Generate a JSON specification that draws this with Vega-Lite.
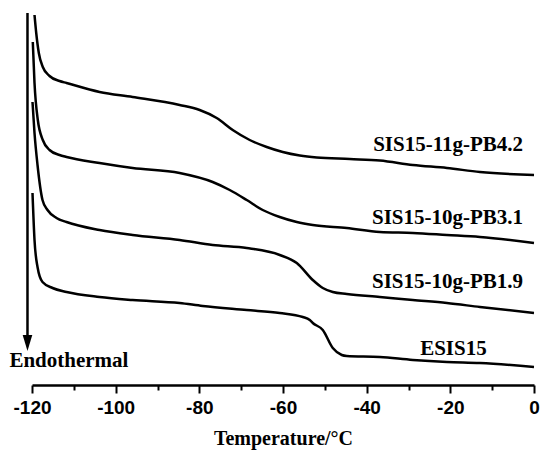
{
  "$schema": "https://vega.github.io/schema/vega-lite/v6.json",
  "width": 502,
  "height": 385,
  "autosize": "none",
  "padding": {"left": 32, "top": 0, "right": 6, "bottom": 66},
  "background": "white",
  "config": {"view": {"stroke": null}},
  "datasets": {
    "curves": [
      {"sample": "SIS15-11g-PB4.2", "T": -119.40, "hf": 3.70},
      {"sample": "SIS15-11g-PB4.2", "T": -118.99, "hf": 3.52},
      {"sample": "SIS15-11g-PB4.2", "T": -118.37, "hf": 3.32},
      {"sample": "SIS15-11g-PB4.2", "T": -117.42, "hf": 3.18},
      {"sample": "SIS15-11g-PB4.2", "T": -115.81, "hf": 3.09},
      {"sample": "SIS15-11g-PB4.2", "T": -113.42, "hf": 3.04},
      {"sample": "SIS15-11g-PB4.2", "T": -111.74, "hf": 3.02},
      {"sample": "SIS15-11g-PB4.2", "T": -103.85, "hf": 2.93},
      {"sample": "SIS15-11g-PB4.2", "T": -95.95, "hf": 2.88},
      {"sample": "SIS15-11g-PB4.2", "T": -84.71, "hf": 2.80},
      {"sample": "SIS15-11g-PB4.2", "T": -79.92, "hf": 2.75},
      {"sample": "SIS15-11g-PB4.2", "T": -75.85, "hf": 2.67},
      {"sample": "SIS15-11g-PB4.2", "T": -72.02, "hf": 2.55},
      {"sample": "SIS15-11g-PB4.2", "T": -67.96, "hf": 2.45},
      {"sample": "SIS15-11g-PB4.2", "T": -63.89, "hf": 2.38},
      {"sample": "SIS15-11g-PB4.2", "T": -60.06, "hf": 2.33},
      {"sample": "SIS15-11g-PB4.2", "T": -55.99, "hf": 2.295},
      {"sample": "SIS15-11g-PB4.2", "T": -51.93, "hf": 2.275},
      {"sample": "SIS15-11g-PB4.2", "T": -44.03, "hf": 2.26},
      {"sample": "SIS15-11g-PB4.2", "T": -36.85, "hf": 2.245},
      {"sample": "SIS15-11g-PB4.2", "T": -28.96, "hf": 2.20},
      {"sample": "SIS15-11g-PB4.2", "T": -20.82, "hf": 2.17},
      {"sample": "SIS15-11g-PB4.2", "T": -12.92, "hf": 2.13},
      {"sample": "SIS15-11g-PB4.2", "T": 0, "hf": 2.10},

      {"sample": "SIS15-10g-PB3.1", "T": -119.81, "hf": 3.43},
      {"sample": "SIS15-10g-PB3.1", "T": -119.40, "hf": 3.02},
      {"sample": "SIS15-10g-PB3.1", "T": -118.61, "hf": 2.65},
      {"sample": "SIS15-10g-PB3.1", "T": -117.42, "hf": 2.45},
      {"sample": "SIS15-10g-PB3.1", "T": -115.81, "hf": 2.35},
      {"sample": "SIS15-10g-PB3.1", "T": -113.42, "hf": 2.30},
      {"sample": "SIS15-10g-PB3.1", "T": -111.74, "hf": 2.28},
      {"sample": "SIS15-10g-PB3.1", "T": -103.85, "hf": 2.22},
      {"sample": "SIS15-10g-PB3.1", "T": -95.95, "hf": 2.17},
      {"sample": "SIS15-10g-PB3.1", "T": -84.71, "hf": 2.12},
      {"sample": "SIS15-10g-PB3.1", "T": -76.81, "hf": 2.03},
      {"sample": "SIS15-10g-PB3.1", "T": -72.74, "hf": 1.95},
      {"sample": "SIS15-10g-PB3.1", "T": -68.67, "hf": 1.85},
      {"sample": "SIS15-10g-PB3.1", "T": -64.85, "hf": 1.75},
      {"sample": "SIS15-10g-PB3.1", "T": -60.78, "hf": 1.68},
      {"sample": "SIS15-10g-PB3.1", "T": -56.71, "hf": 1.63},
      {"sample": "SIS15-10g-PB3.1", "T": -52.88, "hf": 1.60},
      {"sample": "SIS15-10g-PB3.1", "T": -44.75, "hf": 1.57},
      {"sample": "SIS15-10g-PB3.1", "T": -36.85, "hf": 1.53},
      {"sample": "SIS15-10g-PB3.1", "T": -28.96, "hf": 1.52},
      {"sample": "SIS15-10g-PB3.1", "T": -20.82, "hf": 1.50},
      {"sample": "SIS15-10g-PB3.1", "T": -12.92, "hf": 1.48},
      {"sample": "SIS15-10g-PB3.1", "T": 0, "hf": 1.42},

      {"sample": "SIS15-10g-PB1.9", "T": -119.88, "hf": 2.83},
      {"sample": "SIS15-10g-PB1.9", "T": -119.40, "hf": 2.52},
      {"sample": "SIS15-10g-PB1.9", "T": -118.68, "hf": 2.20},
      {"sample": "SIS15-10g-PB1.9", "T": -117.49, "hf": 1.85},
      {"sample": "SIS15-10g-PB1.9", "T": -116.29, "hf": 1.75},
      {"sample": "SIS15-10g-PB1.9", "T": -114.14, "hf": 1.67},
      {"sample": "SIS15-10g-PB1.9", "T": -111.74, "hf": 1.63},
      {"sample": "SIS15-10g-PB1.9", "T": -103.85, "hf": 1.55},
      {"sample": "SIS15-10g-PB1.9", "T": -95.95, "hf": 1.50},
      {"sample": "SIS15-10g-PB1.9", "T": -84.71, "hf": 1.45},
      {"sample": "SIS15-10g-PB1.9", "T": -76.81, "hf": 1.40},
      {"sample": "SIS15-10g-PB1.9", "T": -68.67, "hf": 1.37},
      {"sample": "SIS15-10g-PB1.9", "T": -60.78, "hf": 1.30},
      {"sample": "SIS15-10g-PB1.9", "T": -56.71, "hf": 1.22},
      {"sample": "SIS15-10g-PB1.9", "T": -52.88, "hf": 1.05},
      {"sample": "SIS15-10g-PB1.9", "T": -50.49, "hf": 0.97},
      {"sample": "SIS15-10g-PB1.9", "T": -48.10, "hf": 0.93},
      {"sample": "SIS15-10g-PB1.9", "T": -44.75, "hf": 0.91},
      {"sample": "SIS15-10g-PB1.9", "T": -36.85, "hf": 0.88},
      {"sample": "SIS15-10g-PB1.9", "T": -28.96, "hf": 0.85},
      {"sample": "SIS15-10g-PB1.9", "T": -20.82, "hf": 0.82},
      {"sample": "SIS15-10g-PB1.9", "T": -12.92, "hf": 0.78},
      {"sample": "SIS15-10g-PB1.9", "T": 0, "hf": 0.72},

      {"sample": "ESIS15", "T": -119.88, "hf": 1.92},
      {"sample": "ESIS15", "T": -119.40, "hf": 1.45},
      {"sample": "ESIS15", "T": -118.68, "hf": 1.18},
      {"sample": "ESIS15", "T": -117.49, "hf": 1.03},
      {"sample": "ESIS15", "T": -115.09, "hf": 0.97},
      {"sample": "ESIS15", "T": -111.74, "hf": 0.93},
      {"sample": "ESIS15", "T": -103.85, "hf": 0.88},
      {"sample": "ESIS15", "T": -95.95, "hf": 0.85},
      {"sample": "ESIS15", "T": -84.71, "hf": 0.82},
      {"sample": "ESIS15", "T": -79.20, "hf": 0.79},
      {"sample": "ESIS15", "T": -68.67, "hf": 0.75},
      {"sample": "ESIS15", "T": -60.78, "hf": 0.72},
      {"sample": "ESIS15", "T": -55.27, "hf": 0.68},
      {"sample": "ESIS15", "T": -53.60, "hf": 0.65},
      {"sample": "ESIS15", "T": -52.88, "hf": 0.62},
      {"sample": "ESIS15", "T": -50.49, "hf": 0.55},
      {"sample": "ESIS15", "T": -48.10, "hf": 0.37},
      {"sample": "ESIS15", "T": -45.95, "hf": 0.30},
      {"sample": "ESIS15", "T": -44.75, "hf": 0.29},
      {"sample": "ESIS15", "T": -36.85, "hf": 0.28},
      {"sample": "ESIS15", "T": -28.96, "hf": 0.25},
      {"sample": "ESIS15", "T": -20.82, "hf": 0.23},
      {"sample": "ESIS15", "T": -12.92, "hf": 0.22},
      {"sample": "ESIS15", "T": 0, "hf": 0.18}
    ],
    "labels": [
      {"text": "SIS15-11g-PB4.2", "T": -2.6, "hf": 2.34},
      {"text": "SIS15-10g-PB3.1", "T": -2.6, "hf": 1.61},
      {"text": "SIS15-10g-PB1.9", "T": -2.6, "hf": 0.97},
      {"text": "ESIS15", "T": -11.3, "hf": 0.30}
    ],
    "arrow": [
      {"T": -121.08, "top": 3.72, "bottom": 0.42, "text": "Endothermal", "textT": -125.4, "textHf": 0.18}
    ]
  },
  "layer": [
    {
      "data": {"name": "curves"},
      "mark": {"type": "line", "color": "black", "strokeWidth": 2.5, "interpolate": "monotone"},
      "encoding": {
        "x": {
          "field": "T",
          "type": "quantitative",
          "scale": {"domain": [-120, 0], "nice": false, "zero": false},
          "axis": {
            "values": [-120, -110, -100, -90, -80, -70, -60, -50, -40, -30, -20, -10, 0],
            "labelExpr": "datum.value % 20 === 0 ? replace(datum.label, '−', '-') : ''",
            "title": "Temperature/°C",
            "domainColor": "black",
            "domainWidth": 2.5,
            "tickColor": "black",
            "tickWidth": 2,
            "tickSize": {"condition": {"test": "datum.value % 20 === 0", "value": 8}, "value": 5},
            "labelFont": "Liberation Sans",
            "labelFontWeight": "bold",
            "labelFontSize": 19,
            "labelColor": "black",
            "labelPadding": 5,
            "labelFlush": false,
            "labelOverlap": false,
            "grid": false,
            "titleFont": "Liberation Serif",
            "titleFontWeight": "bold",
            "titleFontSize": 20,
            "titleColor": "black",
            "titleY": 59,
            "titleBaseline": "alphabetic"
          }
        },
        "y": {
          "field": "hf",
          "type": "quantitative",
          "scale": {"domain": [0, 3.85], "nice": false, "zero": false},
          "axis": null
        },
        "detail": {"field": "sample"}
      }
    },
    {
      "data": {"name": "labels"},
      "mark": {"type": "text", "align": "right", "baseline": "alphabetic", "font": "Liberation Serif", "fontWeight": "bold", "fontSize": 21, "color": "black"},
      "encoding": {
        "x": {"field": "T", "type": "quantitative"},
        "y": {"field": "hf", "type": "quantitative"},
        "text": {"field": "text"}
      }
    },
    {
      "data": {"name": "arrow"},
      "mark": {"type": "rule", "color": "black", "strokeWidth": 2.5},
      "encoding": {
        "x": {"field": "T", "type": "quantitative"},
        "y": {"field": "top", "type": "quantitative"},
        "y2": {"field": "bottom"}
      }
    },
    {
      "data": {"name": "arrow"},
      "mark": {"type": "point", "shape": "M-0.6,-1L0.6,-1L0,1Z", "size": 256, "filled": true, "color": "black", "opacity": 1},
      "encoding": {
        "x": {"field": "T", "type": "quantitative"},
        "y": {"field": "bottom", "type": "quantitative"}
      }
    },
    {
      "data": {"name": "arrow"},
      "mark": {"type": "text", "align": "left", "baseline": "alphabetic", "font": "Liberation Serif", "fontWeight": "bold", "fontSize": 21, "color": "black"},
      "encoding": {
        "x": {"field": "textT", "type": "quantitative"},
        "y": {"field": "textHf", "type": "quantitative"},
        "text": {"field": "text"}
      }
    }
  ]
}
